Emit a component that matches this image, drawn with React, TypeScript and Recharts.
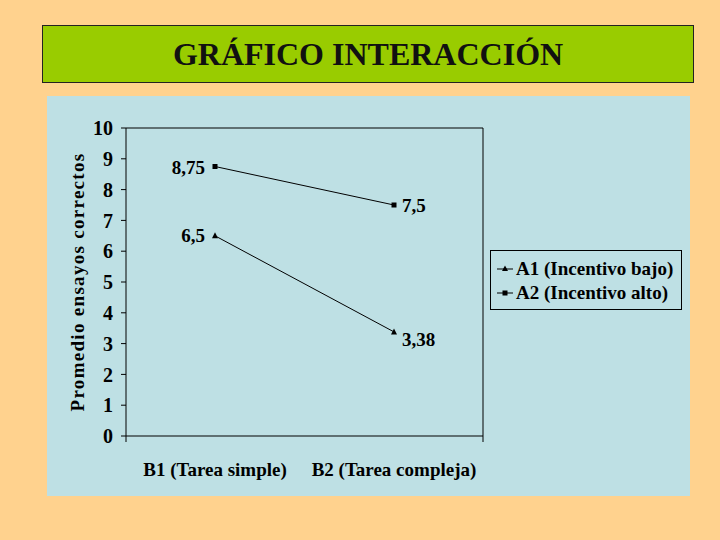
import { LineChart, Line, XAxis, YAxis, Legend, LabelList, Label } from "recharts";

const categories = ["B1 (Tarea simple)", "B2 (Tarea compleja)"];
const a1Values = [6.5, 3.38];
const a2Values = [8.75, 7.5];
const yTicks = [0, 1, 2, 3, 4, 5, 6, 7, 8, 9, 10];
const seriesNames = ["A1 (Incentivo bajo)", "A2 (Incentivo alto)"];

const data = categories.map((name, i) => ({ name, a1: a1Values[i], a2: a2Values[i] }));

const FONT = "'Liberation Serif', 'Times New Roman', serif";
const PANEL = "#BEE0E4";

const SquareDot = (props: any) => {
  const { cx, cy } = props;
  return <rect x={cx - 2.5} y={cy - 2.5} width={5} height={5} fill="#000" />;
};

const TriangleDot = (props: any) => {
  const { cx, cy } = props;
  return <polygon points={`${cx},${cy - 3.5} ${cx - 3},${cy + 2.5} ${cx + 3},${cy + 2.5}`} fill="#000" />;
};

const makeLabel = (dy: number[]) => (props: any) => {
  const { x, y, value, index } = props;
  const left = index === 0;
  return (
    <text
      x={left ? x - 10 : x + 8}
      y={y + dy[index]}
      textAnchor={left ? "end" : "start"}
      dominantBaseline="middle"
      fontFamily={FONT}
      fontWeight="bold"
      fontSize={19}
      fill="#000"
    >
      {String(value).replace(".", ",")}
    </text>
  );
};

const renderLegend = () => (
  <div
    style={{
      border: "1px solid #000",
      background: PANEL,
      width: 192,
      height: 60,
      boxSizing: "border-box",
      padding: "6px 0 0 6px",
      fontFamily: FONT,
      fontWeight: "bold",
      fontSize: 19,
      lineHeight: "24px",
      color: "#000",
    }}
  >
    {seriesNames.map((n, i) => (
      <div key={n} style={{ display: "flex", alignItems: "center", whiteSpace: "nowrap" }}>
        <svg width={16} height={10} style={{ marginRight: 3 }}>
          <line x1={0} y1={5} x2={16} y2={5} stroke="#000" strokeWidth={1} />
          {i === 0 ? (
            <polygon points="8,1.5 5,7 11,7" fill="#000" />
          ) : (
            <rect x={5.5} y={2.5} width={5} height={5} fill="#000" />
          )}
        </svg>
        {n}
      </div>
    ))}
  </div>
);

export default function App() {
  return (
    <div style={{ position: "fixed", left: 0, top: 0, width: 720, height: 540, background: "#FFD28E" }}>
      <div
        style={{
          position: "absolute",
          left: 42,
          top: 25,
          width: 652,
          height: 58,
          boxSizing: "border-box",
          background: "#99CC00",
          border: "1px solid #222",
          display: "flex",
          alignItems: "center",
          justifyContent: "center",
          fontFamily: FONT,
          fontWeight: "bold",
          fontSize: 32,
          color: "#111",
        }}
      >
        GRÁFICO INTERACCIÓN
      </div>
      <div style={{ position: "absolute", left: 47, top: 96, width: 643, height: 400, background: PANEL }}>
        <LineChart width={643} height={400} data={data} margin={{ top: 31, right: 206, bottom: 0, left: 0 }}>
          {/* tick marks between categories, Excel style */}
          <XAxis
            type="number"
            domain={[0, 2]}
            ticks={[0, 1, 2]}
            allowDataOverflow
            height={1}
            axisLine={{ stroke: "#000" }}
            tickLine={{ stroke: "#000" }}
            tickSize={6}
            tickFormatter={() => ""}
          />
          <XAxis
            xAxisId="cat"
            dataKey="name"
            height={59}
            padding={{ left: 89, right: 89 }}
            axisLine={false}
            tickLine={false}
            tickMargin={20}
            interval={0}
            tick={{ fontFamily: FONT, fontWeight: "bold", fontSize: 19, fill: "#000" }}
          />
          <XAxis
            xAxisId="top"
            orientation="top"
            type="number"
            domain={[0, 2]}
            allowDataOverflow
            height={1}
            axisLine={{ stroke: "#000" }}
            tick={false}
            tickLine={false}
          />
          <YAxis
            domain={[0, 10]}
            ticks={yTicks}
            interval={0}
            width={79}
            axisLine={{ stroke: "#000" }}
            tickLine={{ stroke: "#000" }}
            tickSize={5}
            tickMargin={8}
            tick={{ fontFamily: FONT, fontWeight: "bold", fontSize: 20, fill: "#000" }}
          >
            <Label
              value="Promedio ensayos correctos"
              angle={-90}
              position="insideLeft"
              offset={30}
              style={{ fontFamily: FONT, fontSize: 19, fontWeight: "bold", letterSpacing: 1.3, fill: "#000", textAnchor: "middle" }}
            />
          </YAxis>
          <YAxis
            yAxisId="right"
            orientation="right"
            domain={[0, 10]}
            allowDataOverflow
            width={1}
            axisLine={{ stroke: "#000" }}
            tick={false}
            tickLine={false}
          />
          <Legend
            layout="vertical"
            align="center"
            verticalAlign="middle"
            content={renderLegend}
            wrapperStyle={{ position: "absolute", left: 443, top: 154, width: 192, height: 60 }}
          />
          <Line
            xAxisId="cat"
            dataKey="a1"
            name={seriesNames[0]}
            stroke="#000"
            strokeWidth={1}
            dot={<TriangleDot />}
            activeDot={false}
            isAnimationActive={false}
          >
            <LabelList dataKey="a1" content={makeLabel([2, 10])} />
          </Line>
          <Line
            xAxisId="cat"
            dataKey="a2"
            name={seriesNames[1]}
            stroke="#000"
            strokeWidth={1}
            dot={<SquareDot />}
            activeDot={false}
            isAnimationActive={false}
          >
            <LabelList dataKey="a2" content={makeLabel([3, 3])} />
          </Line>
        </LineChart>
      </div>
    </div>
  );
}
